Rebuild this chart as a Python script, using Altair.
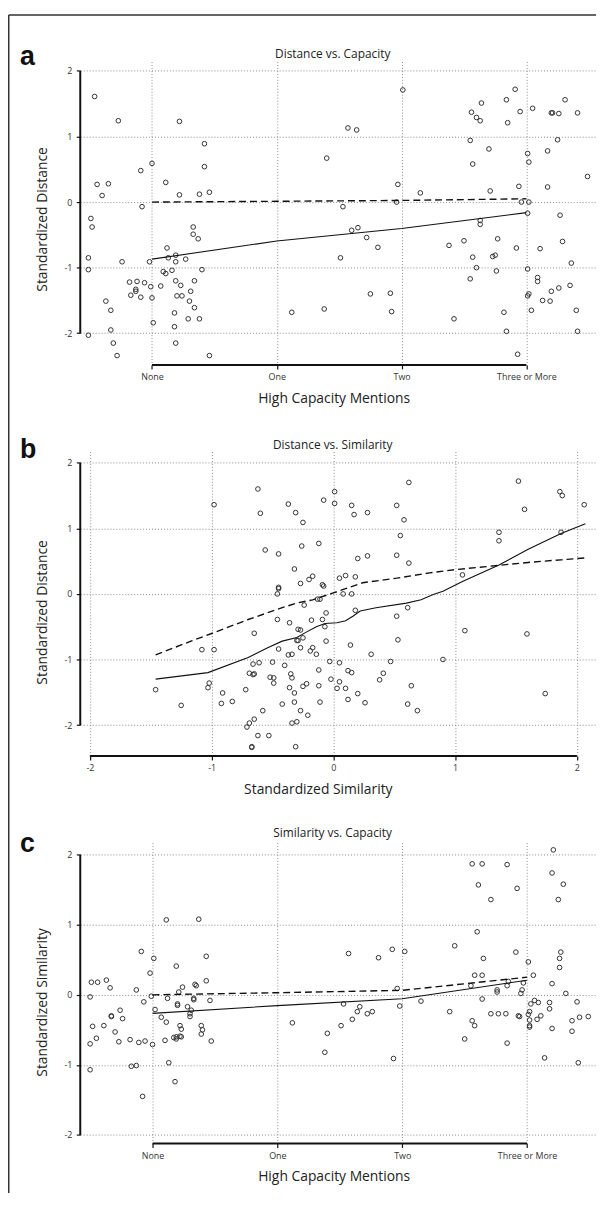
import json
import altair as alt
import pandas as pd

FONT = "Open Sans"

# ---------------- Panel a: Distance vs. Capacity ----------------
a_x = [-0.46, -0.27, 0.22, 0.42, -0.09, 0.00, 0.42, -0.44, -0.35, -0.40, 0.11, 0.22, 0.38, 0.46,
       2.01, 1.57, 1.64, 1.40, 1.97, 2.15,
       2.56, 2.64, 2.60, 2.63, 2.84, 2.91, 2.95, 2.85, 3.05, 3.20, 3.21, 3.26, 3.31, 3.41,
       2.55, 2.70, 3.25, 3.01, 3.02, 3.17, 2.57, 3.49, 2.71, 2.94, 3.17,
       -0.08, -0.49, -0.48, -0.51, -0.51, -0.24, -0.02, -0.37, -0.33, -0.33, -0.51, -0.31, -0.28,
       -0.18, -0.12, -0.13, -0.13, -0.17, -0.09, -0.06, -0.01, 0.00, 0.01, 0.07, 0.12, 0.13, 0.09,
       0.11, 0.16, 0.19, 0.19, 0.27, 0.19, 0.23, 0.20, 0.24, 0.18, 0.18, 0.19, 0.29, 0.30, 0.31,
       0.34, 0.34, 0.33, 0.33, 0.37, 0.40, 0.38, 0.46,
       1.12, 1.38, 1.51, 1.53, 1.60, 1.65, 1.72, 1.81, 1.75, 1.91, 1.92, 1.96,
       2.38, 2.50, 2.42, 2.57, 2.60, 2.55, 2.63, 2.63, 2.77, 2.73, 2.75, 2.76, 2.82, 2.84, 2.93,
       2.92, 2.96, 3.02, 3.01, 3.01, 3.01, 3.02, 3.04, 3.09, 3.09, 3.11, 3.13, 3.19, 3.20, 3.26,
       3.27, 3.29, 3.36, 3.35, 3.40, 3.41]
a_y = [1.61, 1.24, 1.23, 0.89, 0.48, 0.59, 0.54, 0.27, 0.28, 0.10, 0.30, 0.11, 0.12, 0.15,
       1.71, 1.13, 1.10, 0.67, 0.27, 0.14,
       1.37, 1.51, 1.29, 1.24, 1.56, 1.72, 1.38, 1.21, 1.43, 1.36, 1.36, 1.35, 1.56, 1.36,
       0.94, 0.81, 0.95, 0.74, 0.61, 0.78, 0.58, 0.39, 0.17, 0.24, 0.23,
       -0.07, -0.25, -0.38, -0.85, -1.03, -0.91, -0.91, -1.51, -1.65, -1.95, -2.03, -2.15, -2.34,
       -1.22, -1.21, -1.33, -1.36, -1.42, -1.45, -1.23, -1.29, -1.46, -1.84, -1.28, -0.70, -0.85, -1.06,
       -1.09, -1.04, -0.81, -0.91, -0.87, -1.20, -1.27, -1.43, -1.43, -1.69, -1.90, -2.15, -1.78, -1.51, -1.36,
       -1.61, -1.20, -0.38, -0.49, -0.56, -1.03, -1.78, -2.34,
       -1.68, -1.63, -0.85, -0.07, -0.43, -0.39, -0.54, -0.69, -1.40, -1.39, -1.67, 0.00,
       -0.66, -0.59, -1.78, -0.84, -1.00, -1.17, -0.28, -0.34, -0.56, -0.83, -0.81, -1.05, -1.68, -1.97, -2.32,
       -0.70, 0.00, 0.00, -0.17, -1.02, -1.43, -1.40, -1.65, -1.21, -1.15, -0.71, -1.50, -1.51, -1.36,
       -1.31, -0.20, -0.60, -0.93, -1.27, -1.65, -1.97]
a_solid_x = [0, 1, 2, 3]
a_solid_y = [-0.87, -0.594, -0.403, -0.161]
a_dash_x = [0, 1, 2, 3]
a_dash_y = [0.0, 0.012, 0.025, 0.05]

# ---------------- Panel b: Distance vs. Similarity ----------------
b_x = [-0.98, -0.62, -0.60, -0.37, -0.31, -0.25, -0.08, 0.01, 0.01, 0.15, 0.17, 0.28, 0.52, 0.62, 0.58,
       0.55, 0.52, 0.62, 0.28, 0.20, -0.56, -0.45, -0.26, -0.12, -0.32, -0.27, -0.20, -0.17, -0.45, -0.45,
       -0.09, -0.08, 0.05, 0.10, 0.18, 1.36, 1.36, 1.06, 1.52, 1.57, 1.86, 1.88, 1.87, 2.06, -0.46, 0.08,
       0.15,
       -0.24, -0.13, -0.11, -0.06, 0.18, 0.61, 0.52, -0.46, -0.36, -0.18, -0.09, -0.07, -0.29, -0.27, -0.65,
       -0.25, -0.30, -0.29, -0.06, 0.53, 1.08, 1.59, 0.14, -0.45, -0.27, -0.17, -0.19, -0.14, -0.37, -0.34,
       -1.08, -0.98, 0.31, 0.90, 0.47, -0.03, 0.05, -0.66, -0.61, -0.50, -0.40, -0.69, -0.66, -0.65, -0.35,
       -0.34, -0.52, -0.49, -0.49, -0.12, -0.22, -0.25, -0.36, -0.12, -0.02, 0.05, 0.03, 0.10, 0.12, 0.15,
       0.41, 0.38, 0.64, 0.20, 0.12, 0.26, 0.61, 0.69, 1.74, -1.02, -1.03, -1.46, -1.25, -0.91, -0.92, -0.83,
       -0.72, -0.42, -0.32, -0.32, -0.11, -0.58, -0.27, -0.21, -0.65, -0.69, -0.71, -0.34, -0.30, -0.62,
       -0.53, -0.67, -0.67, -0.31]
b_y = [1.36, 1.60, 1.23, 1.37, 1.24, 1.09, 1.43, 1.56, 1.38, 1.35, 1.21, 1.24, 1.35, 1.70, 1.13,
       0.89, 0.59, 0.47, 0.58, 0.54, 0.67, 0.61, 0.73, 0.77, 0.38, 0.16, 0.22, 0.27, 0.10, 0.08,
       0.14, 0.12, 0.24, 0.28, 0.26, 0.94, 0.81, 0.29, 1.72, 1.29, 1.56, 1.50, 0.94, 1.36, 0.00, 0.00,
       0.00,
       -0.17, -0.08, -0.08, -0.29, -0.25, -0.21, -0.34, -0.39, -0.44, -0.40, -0.39, -0.50, -0.54, -0.55, -0.60,
       -0.67, -0.71, -0.71, -0.72, -0.70, -0.56, -0.61, -0.78, -0.84, -0.82, -0.82, -0.87, -0.92, -0.93, -0.92,
       -0.85, -0.85, -0.92, -1.00, -1.03, -1.03, -1.05, -1.07, -1.05, -1.04, -1.09, -1.21, -1.23, -1.22, -1.22,
       -1.28, -1.27, -1.28, -1.36, -1.16, -1.37, -1.41, -1.43, -1.40, -1.30, -1.34, -1.44, -1.44, -1.17, -1.20,
       -1.21, -1.31, -1.40, -1.52, -1.61, -1.66, -1.68, -1.78, -1.52, -1.36, -1.43, -1.46, -1.70, -1.51, -1.67, -1.64,
       -1.46, -1.68, -1.51, -1.65, -1.65, -1.78, -1.78, -1.85, -1.91, -1.97, -2.03, -1.97, -1.95, -2.16,
       -2.16, -2.34, -2.33, -2.33]
b_solid_x = [-1.46, -1.03, -0.70, -0.54, -0.42, -0.30, -0.23, -0.14, -0.07, 0.03, 0.10, 0.16, 0.22,
             0.35, 0.60, 0.72, 0.82, 0.90, 1.06, 1.36, 1.60, 1.87, 2.07]
b_solid_y = [-1.30, -1.20, -0.97, -0.82, -0.72, -0.665, -0.59, -0.50, -0.45, -0.44, -0.41, -0.34, -0.26,
             -0.21, -0.14, -0.09, -0.01, 0.04, 0.19, 0.44, 0.68, 0.92, 1.07]
b_dash_x = [-1.46, -1.17, -0.98, -0.70, -0.42, -0.30, -0.17, 0.00, 0.24, 0.52, 0.79, 1.00, 1.33, 1.60, 1.87, 2.07]
b_dash_y = [-0.93, -0.72, -0.59, -0.39, -0.21, -0.14, -0.09, 0.015, 0.17, 0.24, 0.32, 0.37, 0.43, 0.48, 0.52, 0.55]

# ---------------- Panel c: Similarity vs. Capacity ----------------
c_x = [3.21, 2.56, 2.64, 2.84, 3.20, 3.29, 2.61, 2.92, 2.71, 3.25, 0.11, 0.37, 2.60, -0.09, 0.01, -0.02,
       0.19, 0.43, 0.43, 0.34, 0.35, 0.24, -0.49, -0.44, -0.37, -0.34, -0.13, 1.57, 1.81, 1.92, 2.02, 2.42,
       2.65, 2.91, 3.01, 3.27, 3.26, 3.26, 2.58, 2.64, 3.05, 3.20, 2.55, 2.85, 2.84, 2.97, 2.76, 2.96, 1.96,
       -0.50, -0.50, -0.50, -0.48, -0.45, -0.39, -0.33, -0.33, -0.30, -0.27, -0.26, -0.24, -0.18, -0.17, -0.13,
       -0.11, -0.08, -0.07, -0.06, 0.00, -0.01, 0.02, 0.07, 0.11, 0.10, 0.12, 0.13, 0.18, 0.17, 0.19, 0.20,
       0.20, 0.21, 0.22, 0.23, 0.22, 0.28, 0.30, 0.30, 0.31, 0.33, 0.33, 0.39, 0.40, 0.39, 0.47, 0.46, 0.19,
       0.23,
       1.12, 1.38, 1.40, 1.51, 1.53, 1.60, 1.64, 1.66, 1.72, 1.76, 1.93, 1.98, 2.15,
       2.38, 2.50, 2.56, 2.58, 2.64, 2.71, 2.77, 2.83, 2.84, 2.76, 2.93, 2.94, 2.95, 3.02, 3.01, 3.02, 3.02,
       3.02, 3.03, 3.06, 3.09, 3.08, 3.11, 3.14, 3.18, 3.18, 3.20, 3.31, 3.40, 3.36, 3.36, 3.42, 3.49, 3.41]
c_y = [2.07, 1.87, 1.87, 1.86, 1.74, 1.58, 1.57, 1.52, 1.36, 1.36, 1.07, 1.08, 0.90, 0.62, 0.52, 0.31,
       0.41, 0.55, 0.20, 0.15, 0.13, 0.11, 0.18, 0.18, 0.21, 0.10, 0.07, 0.59, 0.53, 0.65, 0.62, 0.70,
       0.52, 0.61, 0.47, 0.61, 0.52, 0.39, 0.28, 0.28, 0.28, 0.16, 0.13, 0.19, 0.13, 0.17, 0.07, 0.07, 0.09,
       -0.03, -0.70, -1.07, -0.45, -0.62, -0.44, -0.30, -0.31, -0.53, -0.67, -0.22, -0.34, -0.64, -1.02, -1.01,
       -0.68, -1.45, -0.10, -0.66, -0.71, -0.02, -0.21, -0.32, -0.39, -0.65, -0.05, -0.97, -1.24, -0.61, -0.63,
       -0.13, -0.15, 0.04, -0.44, -0.49, -0.59, -0.17, -0.27, -0.31, -0.22, -0.05, -0.07, -0.44, -0.50, -0.56,
       -0.66, -0.08, -0.60, -0.60,
       -0.40, -0.82, -0.55, -0.44, -0.13, -0.35, -0.24, -0.17, -0.27, -0.24, -0.91, -0.16, -0.09,
       -0.24, -0.63, -0.37, -0.44, -0.06, -0.27, -0.27, -0.27, -0.69, 0.04, -0.30, -0.31, 0.02, -0.24, -0.28,
       -0.36, -0.44, -0.46, -0.13, -0.08, -0.11, -0.35, -0.30, -0.90, -0.11, -0.20, -0.48, 0.02, -0.10, -0.52,
       -0.37, -0.32, -0.31, -0.97]
c_solid_x = [0, 1, 2, 3]
c_solid_y = [-0.265, -0.154, -0.055, 0.209]
c_dash_x = [0, 1, 2, 3]
c_dash_y = [0.0, 0.03, 0.064, 0.252]

# ---------------- Text ----------------
capacity_ticks = [0, 1, 2, 3]
capacity_labels = ["None", "One", "Two", "Three or More"]
sim_ticks = [-2, -1, 0, 1, 2]
y_ticks = [-2, -1, 0, 1, 2]
titles = ["Distance vs. Capacity", "Distance vs. Similarity", "Similarity vs. Capacity"]
letters = ["a", "b", "c"]
x_titles = ["High Capacity Mentions", "Standardized Similarity", "High Capacity Mentions"]
y_titles = ["Standardized Distance", "Standardized Distance", "Standardized Similarity"]

W = 521


def panel(px, py, sx_, sy_, dx_, dy_, xdom, ydom, h, xticks, xlabels, xtitle, ytitle,
          title, letter, title_y, letter_y, xtitle_x, ytitle_y, frame=False):
    sx = alt.Scale(domain=xdom, nice=False, zero=False)
    sy = alt.Scale(domain=ydom, nice=False, zero=False)
    if xlabels is not None:
        lexpr = json.dumps(xlabels) + "[datum.value]"
    else:
        lexpr = "'' + datum.value"
    xaxis = alt.Axis(values=xticks, labelExpr=lexpr, domain=False, grid=True, gridDash=[1, 2],
                     gridColor="#8c8c8c", gridWidth=1, ticks=True, tickSize=4, tickWidth=1.2,
                     tickColor="#111", labelFont=FONT, labelFontSize=9, labelColor="#333",
                     labelPadding=4, labelOverlap=False, labelFlush=False,
                     title=xtitle, titleFont=FONT, titleFontSize=14, titleFontWeight="normal",
                     titleColor="#222", titleX=xtitle_x, titleY=33.5, titleAlign="center",
                     titleBaseline="middle", titleAngle=0)
    yaxis = alt.Axis(values=y_ticks, labelExpr="'' + datum.value", domain=False, grid=True,
                     gridDash=[1, 2], gridColor="#8c8c8c", gridWidth=1, ticks=True, tickSize=4,
                     tickWidth=1.2, tickColor="#111", labelFont=FONT, labelFontSize=9,
                     labelColor="#333", labelPadding=4.5, labelOverlap=False, labelFlush=False,
                     title=ytitle, titleFont=FONT, titleFontSize=14, titleFontWeight="normal",
                     titleColor="#222", titleX=-38, titleY=ytitle_y, titleAlign="center",
                     titleBaseline="middle", titleAngle=270)

    X = lambda f, **k: alt.X(f, scale=sx, title=xtitle, **k)
    Y = lambda f, **k: alt.Y(f, scale=sy, title=ytitle, **k)

    pts = alt.Chart(pd.DataFrame({"x": px, "y": py})).mark_point(
        shape="circle", filled=False, size=22, strokeWidth=1, color="#333", opacity=1
    ).encode(x=X("x:Q", axis=xaxis), y=Y("y:Q", axis=yaxis))

    solid = alt.Chart(pd.DataFrame({"x": sx_, "y": sy_})).mark_line(
        color="#111", strokeWidth=1.1
    ).encode(x=X("x:Q"), y=Y("y:Q"))

    dashed = alt.Chart(pd.DataFrame({"x": dx_, "y": dy_})).mark_line(
        color="#111", strokeWidth=1.4, strokeDash=[7, 4]
    ).encode(x=X("x:Q"), y=Y("y:Q"))

    yline = alt.Chart(pd.DataFrame({"y": [y_ticks[0]], "y1": [y_ticks[-1]]})).mark_rule(
        color="#111", strokeWidth=2
    ).encode(x=alt.value(0), y=Y("y:Q"), y2="y1:Q")

    xline = alt.Chart(pd.DataFrame({"x": [xticks[0]], "x1": [xticks[-1]]})).mark_rule(
        color="#111", strokeWidth=2
    ).encode(y=alt.value(h), x=X("x:Q"), x2="x1:Q")

    ttl = alt.Chart(pd.DataFrame({"t": [title]})).mark_text(
        font=FONT, fontSize=12, color="#222", align="center", baseline="middle"
    ).encode(text="t:N", x=alt.value(255), y=alt.value(title_y))

    let = alt.Chart(pd.DataFrame({"t": [letter]})).mark_text(
        font="Liberation Sans", fontWeight="bold", fontSize=27, color="#111",
        align="left", baseline="alphabetic"
    ).encode(text="t:N", x=alt.value(-61), y=alt.value(letter_y))

    layers = [pts, solid, dashed, yline, xline, ttl, let]
    if frame:
        fdf = pd.DataFrame({"f": [1]})
        vframe = alt.Chart(fdf).mark_rule(color="#333", strokeWidth=1.5).encode(
            x=alt.value(-72.25), y=alt.value(-46.95), y2=alt.value(1143))
        hframe = alt.Chart(fdf).mark_rule(color="#333", strokeWidth=1.5).encode(
            y=alt.value(-46.95), x=alt.value(-72.25), x2=alt.value(521))
        layers += [vframe, hframe]
    return alt.layer(*layers).properties(width=W, height=h)


pa = panel(a_x, a_y, a_solid_x, a_solid_y, a_dash_x, a_dash_y,
           [-0.575, 3.558], [-2.483, 2.143], 306.5, capacity_ticks, capacity_labels,
           x_titles[0], y_titles[0], titles[0], letters[0], -8, 4, 256, 159, frame=True)
pb = panel(b_x, b_y, b_solid_x, b_solid_y, b_dash_x, b_dash_y,
           [-2.079, 2.157], [-2.471, 2.171], 307.5, sim_ticks, None,
           x_titles[1], y_titles[1], titles[1], letters[1], -6.5, 6.2, 240, 162)
pc = panel(c_x, c_y, c_solid_x, c_solid_y, c_dash_x, c_dash_y,
           [-0.579, 3.552], [-2.123, 2.174], 304, capacity_ticks, capacity_labels,
           x_titles[2], y_titles[2], titles[2], letters[2], -10, 10, 256, 161)

chart = alt.vconcat(pa, pb, pc, spacing=87, bounds="flush").properties(
    padding={"left": 0, "top": 0, "right": 0, "bottom": 0},
    autosize=alt.AutoSizeParams(type="pad", contains="content"),
).configure_view(stroke=None)

chart.save("out.html", embed_options={"renderer": "svg", "actions": False})
